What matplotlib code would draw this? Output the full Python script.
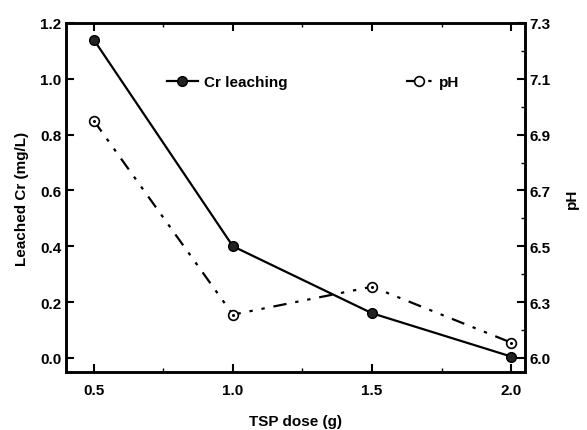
import numpy as np
import matplotlib.pyplot as plt
from matplotlib.ticker import MultipleLocator

plt.rcParams['font.family'] = ['Liberation Sans', 'DejaVu Sans']
plt.rcParams['font.weight'] = 'bold'

# данные
dose = [0.5, 1.0, 1.5, 2.0]
cr = [1.14, 0.40, 0.16, 0.005]
ph = [6.95, 6.255, 6.355, 6.155]

ph_ticks = [6.1, 6.3, 6.5, 6.7, 6.9, 7.1, 7.3]
ph_labels = ['6.0', '6.3', '6.5', '6.7', '6.9', '7.1', '7.3']

fig = plt.figure(figsize=(5.87, 4.31), dpi=100)
ax = fig.add_axes([66 / 587, 1 - 373 / 431, (525 - 66) / 587, (373 - 24) / 431])
ax2 = ax.twinx()

ylo, yhi = -0.0505, 1.2
ax.set_ylim(ylo, yhi)
ax2.set_ylim(ylo + 6.1, yhi + 6.1)
ax.set_xlim(0.4, 2.05)

ax.plot(dose, cr, color='black', lw=1.6, marker='o', ms=7,
        mfc='#222222', mec='black', label='Cr leaching', zorder=3)
ax2.plot(dose, ph, color='black', lw=1.6, dashes=[6, 4, 1.5, 4, 1.5, 4],
         marker='o', ms=7, mfc='white', mec='black', mew=1.2, label='pH', zorder=3)
ax2.plot(dose, ph, ls='none', marker='o', ms=1.2, color='black', zorder=4)

ax.set_xticks(dose)
ax.set_xticklabels(['0.5', '1.0', '1.5', '2.0'])
ax.xaxis.set_minor_locator(MultipleLocator(0.25))
ax.set_yticks(np.arange(0, 1.21, 0.2))
ax.set_yticklabels(['0.0', '0.2', '0.4', '0.6', '0.8', '1.0', '1.2'])
ax2.set_yticks(ph_ticks)
ax2.set_yticklabels(ph_labels)
ax2.yaxis.set_minor_locator(MultipleLocator(0.1))

ax.tick_params(axis='both', which='major', direction='in', length=6, width=1.5,
               labelsize=11, top=True)
ax.tick_params(axis='x', which='minor', direction='in', length=3, width=1, top=True)
ax.tick_params(axis='x', which='major', pad=8)
ax2.tick_params(axis='y', which='major', direction='in', length=6, width=1.5, labelsize=11)
ax2.tick_params(axis='y', which='minor', direction='in', length=3, width=1)

for a in (ax, ax2):
    for s in a.spines.values():
        s.set_linewidth(1.8)

ax.set_xlabel('TSP dose (g)', fontsize=11, fontweight='bold', labelpad=12)
ax.set_ylabel('Leached Cr (mg/L)', fontsize=11, fontweight='bold', labelpad=8)
ax2.set_ylabel('pH', fontsize=11, fontweight='bold', labelpad=10)

ax.legend(loc='upper left', bbox_to_anchor=(0.19, 0.89), frameon=False,
          fontsize=11, handlelength=2.0, handletextpad=0.4)
ax2.legend(loc='upper left', bbox_to_anchor=(0.71, 0.89), frameon=False,
           fontsize=11, handlelength=1.8, handletextpad=0.4)

plt.savefig('out.png')
